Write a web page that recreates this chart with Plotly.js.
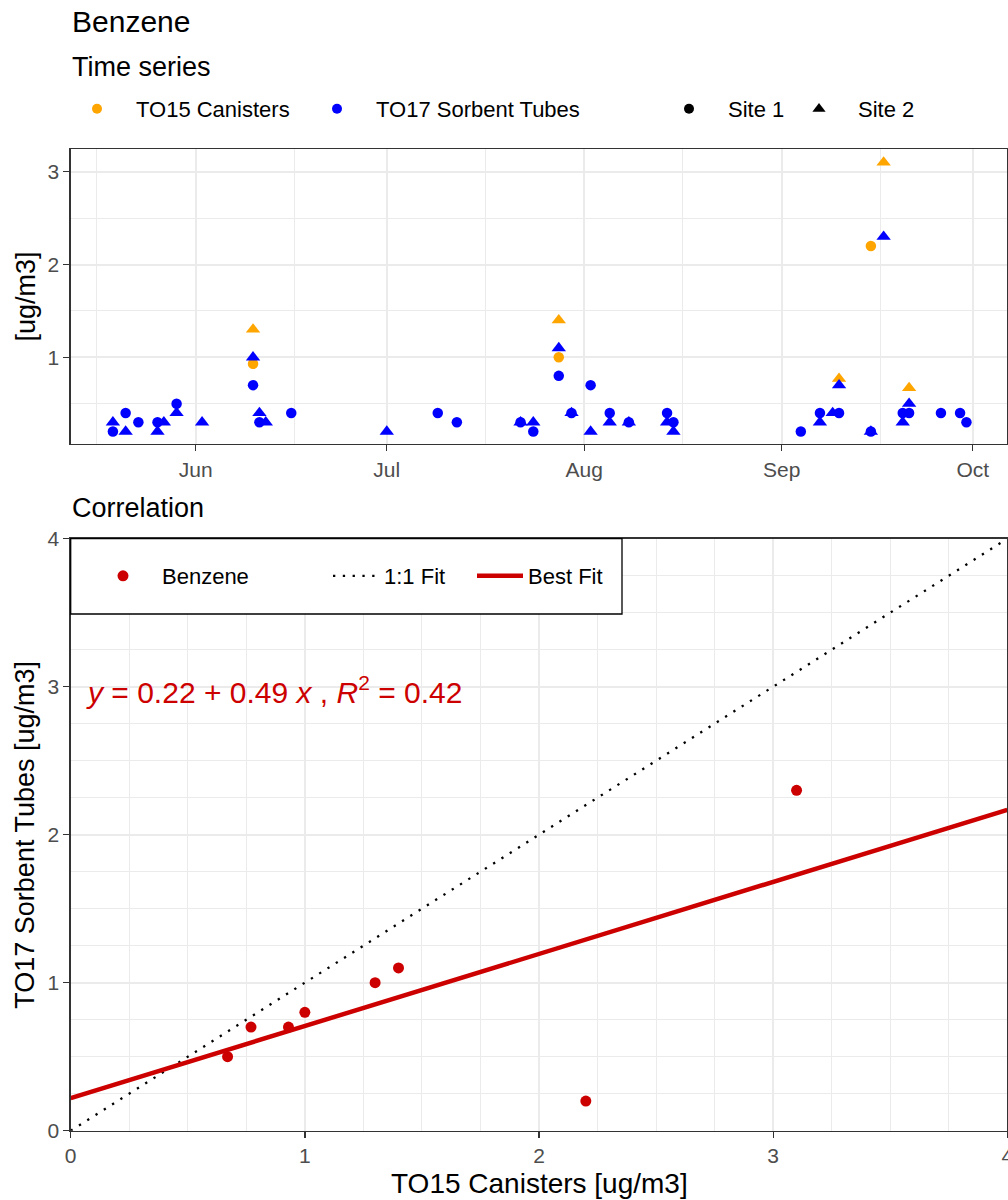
<!DOCTYPE html>
<html><head><meta charset="utf-8">
<script src="https://cdn.plot.ly/plotly-3.0.1.min.js"></script>
<style>html,body{margin:0;padding:0;background:#fff}</style>
</head><body>
<div id="chart" style="width:1008px;height:1200px"></div>
<script>
// ---- data ----
const to15Site1Dates = ['2023-06-10','2023-07-28','2023-09-15'];
const to15Site1Values = [0.93, 1.0, 2.2];
const to15Site2Dates = ['2023-06-10','2023-07-28','2023-09-10','2023-09-17','2023-09-21'];
const to15Site2Values = [1.3, 1.4, 0.77, 3.1, 0.67];
const to17Site1Dates = ['2023-05-19','2023-05-21','2023-05-23','2023-05-26','2023-05-29','2023-06-10','2023-06-11','2023-06-16','2023-07-09','2023-07-12','2023-07-22','2023-07-24','2023-07-28','2023-07-30','2023-08-02','2023-08-05','2023-08-08','2023-08-14','2023-08-15','2023-09-04','2023-09-07','2023-09-10','2023-09-15','2023-09-20','2023-09-21','2023-09-26','2023-09-29','2023-09-30'];
const to17Site1Values = [0.2,0.4,0.3,0.3,0.5,0.7,0.3,0.4,0.4,0.3,0.3,0.2,0.8,0.4,0.7,0.4,0.3,0.4,0.3,0.2,0.4,0.4,0.2,0.4,0.4,0.4,0.4,0.3];
const to17Site2Dates = ['2023-05-19','2023-05-21','2023-05-26','2023-05-27','2023-05-29','2023-06-02','2023-06-10','2023-06-11','2023-06-12','2023-07-01','2023-07-22','2023-07-24','2023-07-28','2023-07-30','2023-08-02','2023-08-05','2023-08-08','2023-08-14','2023-08-15','2023-09-07','2023-09-09','2023-09-10','2023-09-15','2023-09-17','2023-09-20','2023-09-21'];
const to17Site2Values = [0.3,0.2,0.2,0.3,0.4,0.3,1.0,0.4,0.3,0.2,0.3,0.3,1.1,0.4,0.2,0.3,0.3,0.3,0.2,0.3,0.4,0.7,0.2,2.3,0.3,0.5];
const monthTickFormat = '%b';
const legendLabels = ['TO15 Canisters','TO17 Sorbent Tubes','Site 1','Site 2','Benzene','1:1 Fit','Best Fit'];

// ---- derived: paired TO15 vs TO17 ----
function pairs(d15, v15, d17, v17) {
  const out = [];
  d15.forEach((d, i) => { const j = d17.indexOf(d); if (j >= 0) out.push([v15[i], v17[j]]); });
  return out;
}
const paired = pairs(to15Site1Dates, to15Site1Values, to17Site1Dates, to17Site1Values)
  .concat(pairs(to15Site2Dates, to15Site2Values, to17Site2Dates, to17Site2Values));
const corrX = paired.map(p => p[0]);
const corrY = paired.map(p => p[1]);
const n = corrX.length;
const mx = corrX.reduce((a,b)=>a+b,0)/n, my = corrY.reduce((a,b)=>a+b,0)/n;
let sxx=0, sxy=0, syy=0;
for (let i=0;i<n;i++){ sxx+=(corrX[i]-mx)**2; sxy+=(corrX[i]-mx)*(corrY[i]-my); syy+=(corrY[i]-my)**2; }
const slope = sxy/sxx, intercept = my - slope*mx, r2 = sxy*sxy/(sxx*syy);
const corrRange = [0, 4];

// ---- styling ----
const FONT = 'Liberation Sans, Arial, sans-serif';
const W = 1008, H = 1200;
const px = v => v / W, py = v => 1 - v / H;
const ORANGE = '#FFA500', BLUE = '#0000FF', RED = '#CD0000';
const GRID = '#EBEBEB', BORDER = '#333333';

const common = {
  showline: true, linecolor: BORDER, linewidth: 1.3, mirror: true,
  ticks: 'outside', ticklen: 6, tickwidth: 1.3, tickcolor: BORDER,
  tickfont: {family: FONT, size: 21, color: '#4D4D4D'},
  showgrid: true, gridcolor: GRID, gridwidth: 2, zeroline: false, automargin: false,
  ticklabeloverflow: 'allow'
};

const traces = [
  {type:'scatter', mode:'markers', x: to15Site1Dates, y: to15Site1Values, xaxis:'x', yaxis:'y',
   marker:{color:ORANGE, size:10.5, symbol:'circle'}, showlegend:false},
  {type:'scatter', mode:'markers', x: to15Site2Dates, y: to15Site2Values, xaxis:'x', yaxis:'y',
   marker:{color:ORANGE, size:12.5, symbol:'triangle-up'}, showlegend:false},
  {type:'scatter', mode:'markers', x: to17Site1Dates, y: to17Site1Values, xaxis:'x', yaxis:'y',
   marker:{color:BLUE, size:10.5, symbol:'circle'}, showlegend:false},
  {type:'scatter', mode:'markers', x: to17Site2Dates, y: to17Site2Values, xaxis:'x', yaxis:'y',
   marker:{color:BLUE, size:12.5, symbol:'triangle-up'}, showlegend:false},
  // legend keys for the time series
  {type:'scatter', mode:'markers', x:[null], y:[null], xaxis:'x', yaxis:'y', name: legendLabels[0],
   marker:{color:ORANGE, size:10}, legend:'legend'},
  {type:'scatter', mode:'markers', x:[null], y:[null], xaxis:'x', yaxis:'y', name: legendLabels[1],
   marker:{color:BLUE, size:10}, legend:'legend2'},
  {type:'scatter', mode:'markers', x:[null], y:[null], xaxis:'x', yaxis:'y', name: legendLabels[2],
   marker:{color:'#000', size:10, symbol:'circle'}, legend:'legend3'},
  {type:'scatter', mode:'markers', x:[null], y:[null], xaxis:'x', yaxis:'y', name: legendLabels[3],
   marker:{color:'#000', size:11.5, symbol:'triangle-up'}, legend:'legend4'},
  // correlation
  {type:'scatter', mode:'lines', x: corrRange, y: corrRange, xaxis:'x2', yaxis:'y2', name: legendLabels[5],
   line:{color:'#000', width:2.3, dash:'2.3px,7.5px'}, legend:'legend6'},
  {type:'scatter', mode:'lines', x: corrRange, y: corrRange.map(v => intercept + slope*v), xaxis:'x2', yaxis:'y2',
   name: legendLabels[6], line:{color:RED, width:4.5}, legend:'legend7'},
  {type:'scatter', mode:'markers', x: corrX, y: corrY, xaxis:'x2', yaxis:'y2', name: legendLabels[4],
   marker:{color:RED, size:11}, legend:'legend5'}
];

function leg(x, y, w) {
  return {orientation:'h', x: px(x), y: py(y), xanchor:'left', yanchor:'middle',
          bgcolor:'rgba(0,0,0,0)', borderwidth:0, itemwidth: w,
          font:{family:FONT, size:22, color:'#000'}, itemclick:false, itemdoubleclick:false};
}

const topDomainY = [py(444), py(149)];
const botDomainY = [py(1130.7), py(538.7)];
const domX = [px(70.7), px(1007.3)];

const layout = {
  width: W, height: H, margin:{l:0, r:0, t:0, b:0},
  paper_bgcolor:'#fff', plot_bgcolor:'#fff',
  font:{family:FONT},
  xaxis: Object.assign({}, common, {
    type:'date', domain: domX, anchor:'y',
    range:['2023-05-12 09:00','2023-10-06 10:00'],
    tick0:'2023-06-01', dtick:'M1', tickformat: monthTickFormat,
    minor:{tick0:'2023-05-16 12:00', dtick:'M1', showgrid:true, gridcolor:GRID, gridwidth:1}
  }),
  yaxis: Object.assign({}, common, {
    domain: topDomainY, anchor:'x', range:[0.0657, 3.2446], tick0:0, dtick:1,
    minor:{tick0:0, dtick:0.5, showgrid:true, gridcolor:GRID, gridwidth:1}
  }),
  xaxis2: Object.assign({}, common, {
    domain: domX, anchor:'y2', range: corrRange, tick0:0, dtick:1,
    tickvals:[0,1,2,3,4],
    minor:{tick0:0, dtick:0.25, showgrid:true, gridcolor:GRID, gridwidth:1}
  }),
  yaxis2: Object.assign({}, common, {
    domain: botDomainY, anchor:'x2', range: corrRange, tick0:0, dtick:1,
    minor:{tick0:0, dtick:0.25, showgrid:true, gridcolor:GRID, gridwidth:1}
  }),
  legend: leg(97-39, 109, 68),
  legend2: leg(337-39, 109, 68),
  legend3: leg(689-39, 109, 68),
  legend4: leg(819-39, 109, 68),
  legend5: leg(123-39, 576, 68),
  legend6: leg(328, 576, 46),
  legend7: leg(472, 576, 46),
  shapes: [
    {type:'rect', xref:'paper', yref:'paper', x0: px(70.7), x1: px(622), y0: py(614), y1: py(538.7),
     line:{color:'#000', width:1.3}, fillcolor:'#fff', layer:'above'}
  ],
  annotations: [
    {text:'Benzene', xref:'paper', yref:'paper', x: px(70), y: py(22), xanchor:'left', yanchor:'middle',
     showarrow:false, font:{family:FONT, size:30, color:'#000'}},
    {text:'Time series', xref:'paper', yref:'paper', x: px(70), y: py(67), xanchor:'left', yanchor:'middle',
     showarrow:false, font:{family:FONT, size:27, color:'#000'}},
    {text:'Correlation', xref:'paper', yref:'paper', x: px(70), y: py(508), xanchor:'left', yanchor:'middle',
     showarrow:false, font:{family:FONT, size:27, color:'#000'}},
    {text:'[ug/m3]', xref:'paper', yref:'paper', x: px(25), y: py(296.5), xanchor:'center', yanchor:'middle',
     textangle:-90, showarrow:false, font:{family:FONT, size:27, color:'#000'}},
    {text:'TO17 Sorbent Tubes [ug/m3]', xref:'paper', yref:'paper', x: px(25), y: py(834.7), xanchor:'center', yanchor:'middle',
     textangle:-90, showarrow:false, font:{family:FONT, size:27, color:'#000'}},
    {text:'TO15 Canisters [ug/m3]', xref:'paper', yref:'paper', x: px(539), y: py(1183), xanchor:'center', yanchor:'middle',
     showarrow:false, font:{family:FONT, size:28, color:'#000'}},
    {text:'<i>y</i> = ' + intercept.toFixed(2) + ' + ' + slope.toFixed(2) + ' <i>x</i> , <i>R</i><sup>2</sup> = ' + r2.toFixed(2),
     xref:'paper', yref:'paper', x: px(84), y: py(690), xanchor:'left', yanchor:'middle',
     showarrow:false, font:{family:FONT, size:30, color:RED}}
  ]
};

Plotly.newPlot('chart', traces, layout, {displayModeBar:false, staticPlot:true});
</script>
</body></html>
